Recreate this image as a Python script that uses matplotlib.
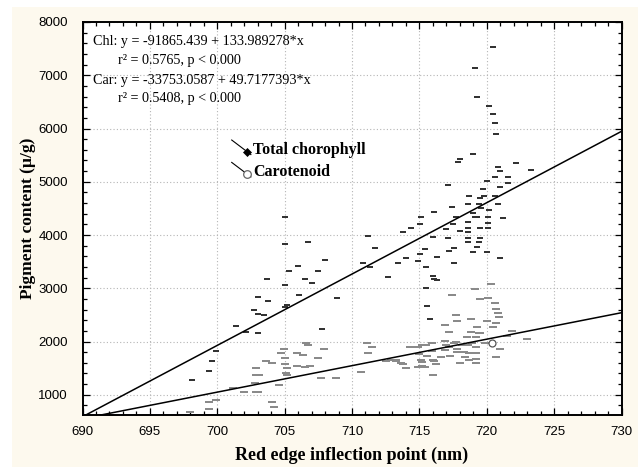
import numpy as np
import matplotlib
matplotlib.use("Agg")
import matplotlib.pyplot as plt
from matplotlib.lines import Line2D
from matplotlib.patches import Rectangle
from matplotlib.path import Path
from matplotlib.legend_handler import HandlerLine2D
from matplotlib.ticker import MultipleLocator

# --- data ------------------------------------------------------------------
chl_x = [698.1, 699.4, 699.6, 699.9, 701.4, 702.1, 702.7, 703.0, 703.5, 703.0,
         703.0, 703.7, 703.8, 705.0, 705.0, 706.7, 706.0, 707.5, 705.3, 708.0,
         706.5, 707.0, 705.0, 706.1, 708.9, 705.2, 705.05, 707.8, 711.2, 711.7,
         710.8, 711.3, 712.65, 713.4, 714.0, 714.9, 715.5, 715.4, 715.1, 715.05,
         714.4, 713.8, 715.5, 715.6, 715.8, 716.1, 716.0, 716.3, 716.0, 716.1,
         716.3, 715.05, 717.1, 717.4, 717.7, 717.5, 717.0, 717.1, 717.6, 717.2,
         717.6, 718.0, 717.9, 718.0, 719.0, 718.7, 718.6, 718.6, 718.6, 718.6,
         718.6, 718.6, 719.0, 719.1, 719.3, 719.5, 719.8, 719.7, 719.4, 719.6,
         719.5, 719.5, 719.4, 719.3, 719.0, 720.0, 720.1, 720.1, 720.1, 720.2,
         720.0, 720.6, 720.6, 720.8, 720.97, 720.8, 720.97, 721.6, 721.6, 721.2,
         720.97, 722.2, 723.3, 720.7, 720.6, 720.5, 720.2, 719.3, 719.15, 720.5]
chl_y = [1280, 1446, 1634, 1825, 2294, 2181, 2600, 2520, 2495, 2838,
         2154, 3168, 2755, 4344, 3825, 3870, 3421, 3330, 3327, 3536,
         3170, 3095, 3070, 2873, 2811, 2680, 2654, 2237, 3990, 3750,
         3468, 3390, 3217, 3468, 3562, 3517, 3393, 3731, 4338, 4206,
         4126, 4054, 3010, 2667, 2417, 4426, 3968, 3593, 3230, 3174,
         3150, 3643, 4945, 4532, 4332, 4206, 4113, 3944, 3756, 3705,
         3468, 5421, 5371, 4081, 5521, 4738, 4576, 4244, 4126, 4056,
         3949, 3874, 4407, 4344, 4344, 4695, 4732, 4858, 4576, 4507,
         4131, 3944, 3863, 3781, 3680, 3680, 4344, 4231, 4131, 4469,
         5008, 5095, 4738, 4576, 4901, 5283, 5208, 5095, 4982, 4319,
         3568, 5358, 5215, 5897, 6109, 6272, 6417, 6597, 7142, 7530]

car_x = [698.0, 699.4, 699.4, 699.9, 701.2, 702.0, 702.9, 702.8, 702.9, 702.9,
         703.6, 704.1, 703.1, 703.0, 704.1, 704.2, 704.6, 704.95, 704.7, 705.0,
         705.0, 705.2, 705.1, 705.2, 705.9, 705.9, 706.4, 706.5, 706.6, 706.7,
         706.9, 707.5, 707.9, 707.7, 708.8, 711.1, 711.5, 711.2, 712.5, 713.3,
         710.7, 712.9, 713.3, 713.6, 713.8, 714.0, 714.3, 714.9, 715.0, 715.2,
         715.5, 715.9, 715.1, 715.2, 715.2, 714.9, 715.4, 715.6, 715.9, 716.0,
         716.0, 716.1, 716.2, 716.6, 716.9, 716.9, 716.9, 717.0, 717.2, 717.2,
         717.3, 717.6, 717.7, 717.8, 717.8, 718.0, 717.7, 717.8, 717.4, 718.2,
         718.3, 718.4, 718.5, 718.65, 718.6, 718.7, 718.8, 718.8, 718.9, 719.2,
         719.2, 719.2, 719.2, 719.2, 719.3, 719.4, 719.5, 719.15, 719.5, 719.9,
         720.0, 720.1, 720.3, 720.5, 720.6, 720.7, 720.8, 720.9, 720.7, 721.0,
         720.7, 721.5, 721.9, 723.0]
car_y = [682, 732, 869, 910, 1135, 1046, 1046, 1214, 1365, 1496,
         1630, 1602, 1376, 1051, 855, 762, 1177, 1865, 1778, 1684,
         1577, 1496, 1414, 1371, 1778, 1540, 1746, 1515, 1966, 1934,
         1540, 1690, 1859, 1309, 1309, 1977, 1897, 1778, 1628, 1653,
         1421, 1653, 1639, 1590, 1577, 1496, 1903, 1903, 1765, 1934,
         1934, 1977, 1653, 1621, 1540, 1527, 1515, 1728, 1828, 1653,
         1371, 1639, 1571, 1703, 2015, 1840, 2310, 1934, 1903, 2184,
         1728, 1966, 1997, 1853, 1809, 1602, 2497, 2391, 2873, 1940,
         1797, 1715, 2090, 1653, 1934, 1778, 2417, 2178, 1966, 1890,
         1778, 1678, 1602, 2090, 2278, 2165, 2154, 2991, 2792, 1966,
         2391, 2822, 3074, 2266, 2717, 2604, 2529, 2454, 2353, 1853,
         1703, 2095, 2203, 2040]
car_ring_x = [720.4]
car_ring_y = [1966]

chl_coef = (-91865.439, 133.989278)
car_coef = (-33753.0587, 49.7177393)

stats_lines = ["Chl: y = -91865.439 + 133.989278*x",
               "r\u00b2 = 0.5765, p < 0.000",
               "Car: y = -33753.0587 + 49.7177393*x",
               "r\u00b2 = 0.5408, p < 0.000"]
series_labels = ["Total chorophyll", "Carotenoid"]
x_ticks = list(range(690, 731, 5))
y_ticks = list(range(1000, 8001, 1000))

SERIF = "Liberation Serif"
SANS = "Liberation Sans"
CREAM = "#fdf9ee"

# wide flat markers - the tiny Statistica symbols render as dashes
dash = Path([(-1, -0.45), (1, -0.45), (1, 0.45), (-1, 0.45), (-1, -0.45)],
            [Path.MOVETO, Path.LINETO, Path.LINETO, Path.LINETO, Path.CLOSEPOLY])
flat = Path([(-1, -0.3), (1, -0.3), (1, 0.3), (-1, 0.3), (-1, -0.3)],
            [Path.MOVETO, Path.LINETO, Path.LINETO, Path.LINETO, Path.CLOSEPOLY])


class DiagHandler(HandlerLine2D):
    """Legend key: short falling line with the marker near its end."""
    def create_artists(self, legend, orig, xdescent, ydescent, width, height,
                       fontsize, trans):
        x0, x1 = -xdescent, -xdescent + width
        y0, y1 = -ydescent + height * 1.25, -ydescent - height * 0.05
        seg = Line2D([x0, x1], [y0, y1], color="k", lw=0.8, transform=trans)
        f = 0.82
        mk = Line2D([x0 + f * (x1 - x0)], [y0 + f * (y1 - y0)], ls="none",
                    marker=orig.get_marker(), markersize=orig.get_markersize(),
                    markerfacecolor=orig.get_markerfacecolor(),
                    markeredgecolor=orig.get_markeredgecolor(),
                    markeredgewidth=orig.get_markeredgewidth(), transform=trans)
        return [seg, mk]


fig = plt.figure(figsize=(6.38, 4.71), dpi=100, facecolor="white")
fig.patches.append(Rectangle((12 / 638, 4 / 471), 626 / 638, 460 / 471,
                             transform=fig.transFigure, facecolor=CREAM,
                             edgecolor="none", zorder=-10))
ax = fig.add_axes([82.5 / 638, 1 - 415 / 471, 539 / 638, 393 / 471])
ax.set_facecolor("white")

ax.plot(car_x, car_y, ls="none", marker=flat, markersize=5.2,
        color="#8a8a8a", markeredgewidth=0, zorder=3)
ax.plot(car_ring_x, car_ring_y, ls="none", marker="o", markersize=5,
        markerfacecolor="white", markeredgecolor="#555555",
        markeredgewidth=0.9, zorder=4)
ax.plot(chl_x, chl_y, ls="none", marker=dash, markersize=4.2,
        color="#333333", markeredgewidth=0, zorder=3)

xx = np.array([690.0, 730.0])
ax.plot(xx, chl_coef[0] + chl_coef[1] * xx, color="k", lw=1.1, zorder=5)
ax.plot(xx, car_coef[0] + car_coef[1] * xx, color="k", lw=1.1, zorder=5)

ax.set_xlim(690, 730)
ax.set_ylim(620, 8000)
ax.set_xticks(x_ticks)
ax.set_yticks(y_ticks)
ax.xaxis.set_minor_locator(MultipleLocator(1))
ax.yaxis.set_minor_locator(MultipleLocator(200))
ax.tick_params(which="both", direction="in", top=True, right=True,
               width=0.9, color="k")
ax.tick_params(which="major", length=5, labelsize=9.5)
ax.tick_params(axis="x", which="major", pad=8)
ax.tick_params(axis="y", which="major", pad=10.5)
ax.tick_params(which="minor", length=3)
for lab in ax.get_xticklabels() + ax.get_yticklabels():
    lab.set_fontfamily(SANS)
for s in ax.spines.values():
    s.set_linewidth(1.4)
ax.grid(True, which="major", ls=(0, (1, 2)), color="#b5b5b5", lw=0.8)
ax.set_axisbelow(True)

ax.set_xlabel("Red edge inflection point (nm)", family=SERIF,
              fontweight="bold", fontsize=13, labelpad=6)
ax.set_ylabel("Pigment content (\u00b5/g)", family=SERIF,
              fontweight="bold", fontsize=12.5, labelpad=1.5)

text_pos = [(0.0195, 0.950), (0.0659, 0.9015), (0.0195, 0.852), (0.0659, 0.805)]
for (tx, ty), s in zip(text_pos, stats_lines):
    ax.text(tx, ty, s, transform=ax.transAxes, family=SERIF, fontsize=10.2,
            va="center", ha="left")

h_chl = Line2D([], [], marker="D", markersize=4.2, markerfacecolor="k",
               markeredgecolor="k", markeredgewidth=0.5, ls="-")
h_car = Line2D([], [], marker="o", markersize=5.5, markerfacecolor="white",
               markeredgecolor="#666666", markeredgewidth=0.9, ls="-")
leg = ax.legend([h_chl, h_car], series_labels, loc="upper left",
                bbox_to_anchor=(0.262, 0.715), frameon=False, borderpad=0,
                handlelength=1.2, handletextpad=0.12, labelspacing=0.4,
                handler_map={Line2D: DiagHandler()},
                prop={"family": SERIF, "weight": "bold", "size": 11.5})

fig.savefig("out.png", dpi=100, facecolor=fig.get_facecolor())
